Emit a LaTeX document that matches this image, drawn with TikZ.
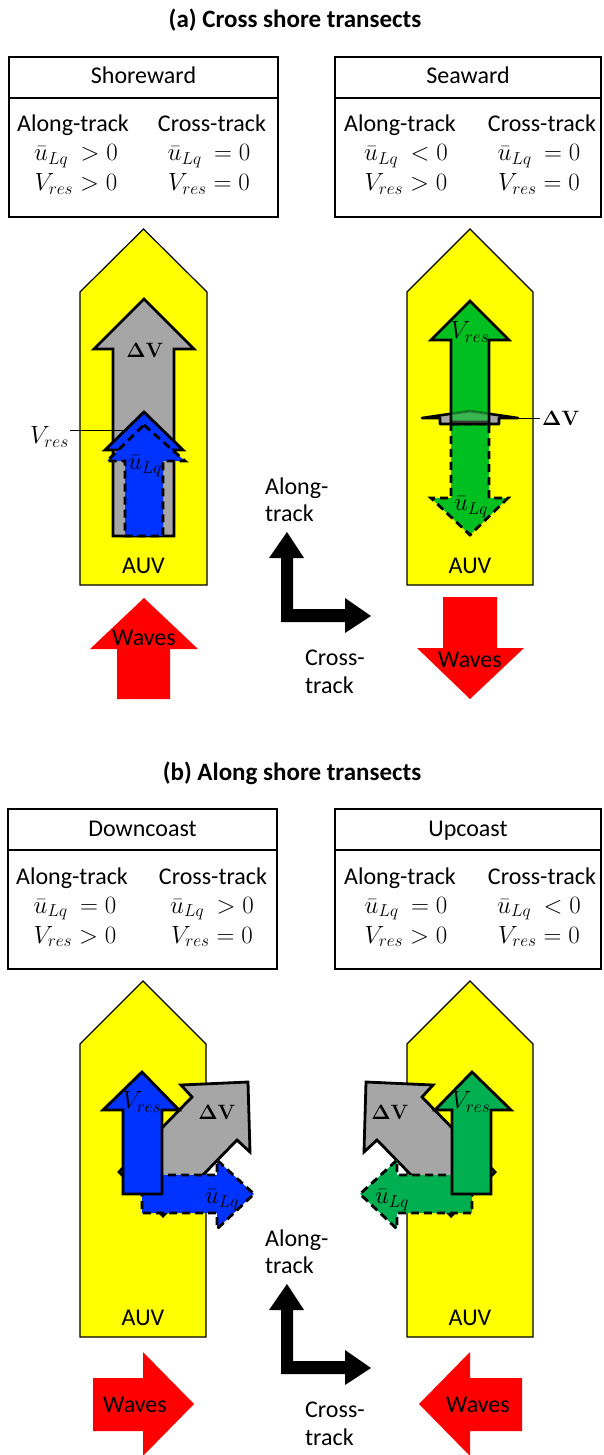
\documentclass[tikz,border=0pt]{standalone}
\usepackage[no-math]{fontspec}
\setmainfont{Carlito}
\usepackage{amsmath}
\definecolor{auvyellow}{HTML}{FFFF00}
\definecolor{arrgray}{HTML}{A6A6A6}
\definecolor{arrblue}{HTML}{0033FF}
\definecolor{greenA}{HTML}{00C021}
\definecolor{greenB}{HTML}{00B050}
\definecolor{wavered}{HTML}{FF0000}
\begin{document}
\begin{tikzpicture}[x=1pt,y=-1pt,
  txt/.style={font=\fontsize{24}{28}\selectfont, inner sep=0pt},
  ttl/.style={font=\bfseries\fontsize{25}{30}\selectfont, inner sep=0pt},
  dvlab/.style={font=\fontsize{22}{26}\selectfont, inner sep=0pt},
  auvbody/.style={fill=auvyellow, draw=black, line width=1.2pt, line join=miter},
  tbox/.style={draw=black, line width=1.2pt},
  solidarr/.style={draw=black, line width=2.8pt, line join=miter},
  dasharr/.style={draw=black, line width=2.8pt, dash pattern=on 8pt off 5pt, line join=miter},
  wave/.style={fill=wavered, draw=none},
  axisarr/.style={fill=black, draw=none},
  leader/.style={draw=black, line width=1pt},
  flatarr/.style={draw=black, line width=2.6pt, line join=round, fill=arrgray}
]
\useasboundingbox (0,0) rectangle (603,1455);

% ================= (a) =================
\node[ttl, anchor=base] (titleA) at (295,28) {(a) Cross shore transects};

% Shoreward box
\draw[tbox] (9,57) rectangle (278,217);
\draw[tbox] (9,98) -- (278,98);
\node[txt, anchor=base] (hShore) at (143.5,84) {Shoreward};
\node[txt, anchor=base] (aShA) at (73,132) {Along-track};
\node[txt, anchor=base] (aShC) at (212,132) {Cross-track};
\node[txt, anchor=base] (aShU1) at (76,161) {$\bar{u}_{Lq}\ > 0$};
\node[txt, anchor=base] (aShV1) at (76,191) {$V_{res} > 0$};
\node[txt, anchor=base] (aShU2) at (209,161) {$\bar{u}_{Lq}\ = 0$};
\node[txt, anchor=base] (aShV2) at (209,191) {$V_{res} = 0$};

% Seaward box
\draw[tbox] (335,57) rectangle (601,217);
\draw[tbox] (335,98) -- (601,98);
\node[txt, anchor=base] (hSea) at (468,84) {Seaward};
\node[txt, anchor=base] (aSeA) at (400,132) {Along-track};
\node[txt, anchor=base] (aSeC) at (542,132) {Cross-track};
\node[txt, anchor=base] (aSeU1) at (406,161) {$\bar{u}_{Lq}\ < 0$};
\node[txt, anchor=base] (aSeV1) at (406,191) {$V_{res} > 0$};
\node[txt, anchor=base] (aSeU2) at (539,161) {$\bar{u}_{Lq}\ = 0$};
\node[txt, anchor=base] (aSeV2) at (539,191) {$V_{res} = 0$};

% AUV bodies
\draw[auvbody] (80,585) -- (80,292) -- (143.5,229) -- (207,292) -- (207,585) -- cycle;
\draw[auvbody] (407,585) -- (407,292) -- (470,229) -- (533,292) -- (533,585) -- cycle;
\node[txt, anchor=base] (auvA1) at (143.5,573) {AUV};
\node[txt, anchor=base] (auvA2) at (470,573) {AUV};

% left (shoreward) arrows
\draw[solidarr, fill=arrgray] (144,299) -- (194,349) -- (174,349) -- (174,536) -- (113,536) -- (113,349) -- (94,349) -- cycle;
\draw[solidarr, fill=arrblue] (144,412) -- (183,450) -- (160,450) -- (160,530) -- (128,530) -- (128,450) -- (105,450) -- cycle;
\draw[dasharr, fill=arrblue] (144,425) -- (185,461) -- (163,461) -- (163,536) -- (125,536) -- (125,461) -- (107,461) -- cycle;
\node[dvlab] (dVa1) at (145,350) {$\mathbf{\Delta V}$};
\node[txt] (uLa1) at (145,466) {$\bar{u}_{Lq}$};
\coordinate (ldA) at (125.5,430);
\node[txt, anchor=east, inner sep=1pt] (vresA1) at (70,437) {$V_{res}$};
\draw[leader] (ldA) -- (ldA -| vresA1.east);

% right (seaward) arrows
\draw[dasharr, fill=greenA] (451,424) -- (489,424) -- (489,498) -- (508,498) -- (470,535) -- (431,498) -- (451,498) -- cycle;
\draw[flatarr] (440,424) -- (440,418) -- (422,418) -- (470,411) -- (518,418) -- (499,418) -- (499,424) -- cycle;
\draw[solidarr, fill=greenA] (470,301) -- (509,340) -- (489,340) -- (489,422) -- (451,422) -- (451,340) -- (431,340) -- cycle;
\begin{scope}
  \clip (452.4,405) rectangle (487.6,422);
  \draw[flatarr, opacity=0.35] (440,424) -- (440,418) -- (422,418) -- (470,411) -- (518,418) -- (499,418) -- (499,424) -- cycle;
\end{scope}
\node[txt] (vresA2) at (470,332) {$V_{res}$};
\node[txt] (uLa2) at (471,507) {$\bar{u}_{Lq}$};
\coordinate (ldB) at (518,418);
\node[dvlab, anchor=west, inner sep=2pt] (dVa2) at (540,418) {$\mathbf{\Delta V}$};
\draw[leader] (ldB) -- (dVa2.west);

% axis
\fill[axisarr] (287,532) -- (304,558) -- (293,558) -- (293,609) -- (345,609) -- (345,598) -- (371,616) -- (345,633) -- (345,622) -- (281,622) -- (281,558) -- (269,558) -- cycle;
\node[txt, anchor=base west] (axA1) at (265,494) {Along-};
\node[txt, anchor=base west] (axA2) at (265,521) {track};
\node[txt, anchor=base west] (axA3) at (305,665) {Cross-};
\node[txt, anchor=base west] (axA4) at (305,693) {track};

% waves
\fill[wave] (144,598) -- (198,649) -- (170,649) -- (170,699) -- (117,699) -- (117,649) -- (90,649) -- cycle;
\node[txt, anchor=base] (wvA1) at (144,645) {Waves};
\fill[wave] (443,597) -- (497,597) -- (497,648) -- (524,648) -- (470,699) -- (417,648) -- (443,648) -- cycle;
\node[txt, anchor=base] (wvA2) at (470,667) {Waves};

% ================= (b) =================
\node[ttl, anchor=base] (titleB) at (292,780) {(b) Along shore transects};

% Downcoast box
\draw[tbox] (8,809) rectangle (277,969);
\draw[tbox] (8,850) -- (277,850);
\node[txt, anchor=base] (hDown) at (142.5,836) {Downcoast};
\node[txt, anchor=base] (bDnA) at (72,884) {Along-track};
\node[txt, anchor=base] (bDnC) at (213,884) {Cross-track};
\node[txt, anchor=base] (bDnU1) at (75,913) {$\bar{u}_{Lq}\ = 0$};
\node[txt, anchor=base] (bDnV1) at (75,943) {$V_{res} > 0$};
\node[txt, anchor=base] (bDnU2) at (212,913) {$\bar{u}_{Lq}\ > 0$};
\node[txt, anchor=base] (bDnV2) at (212,943) {$V_{res} = 0$};

% Upcoast box
\draw[tbox] (335,809) rectangle (601,969);
\draw[tbox] (335,850) -- (601,850);
\node[txt, anchor=base] (hUp) at (468,836) {Upcoast};
\node[txt, anchor=base] (bUpA) at (400,884) {Along-track};
\node[txt, anchor=base] (bUpC) at (542,884) {Cross-track};
\node[txt, anchor=base] (bUpU1) at (406,913) {$\bar{u}_{Lq}\ = 0$};
\node[txt, anchor=base] (bUpV1) at (406,943) {$V_{res} > 0$};
\node[txt, anchor=base] (bUpU2) at (539,913) {$\bar{u}_{Lq}\ < 0$};
\node[txt, anchor=base] (bUpV2) at (539,943) {$V_{res} = 0$};

% AUV bodies
\draw[auvbody] (80,1337) -- (80,1044) -- (143,981) -- (206,1044) -- (206,1337) -- cycle;
\draw[auvbody] (407,1337) -- (407,1044) -- (470,981) -- (533,1044) -- (533,1337) -- cycle;
\node[txt, anchor=base] (auvB1) at (143,1325) {AUV};
\node[txt, anchor=base] (auvB2) at (470,1325) {AUV};

% downcoast arrows
\draw[solidarr, fill=arrgray] (248,1082) -- (250,1152) -- (237,1140) -- (163,1216) -- (119,1172) -- (192,1097) -- (181,1085) -- cycle;
\draw[dasharr, fill=arrblue] (142,1175) -- (217,1175) -- (217,1160) -- (254,1194) -- (217,1229) -- (217,1213) -- (142,1213) -- cycle;
\draw[solidarr, fill=arrblue] (142,1072) -- (179,1110) -- (162,1110) -- (162,1194) -- (123,1194) -- (123,1110) -- (103,1110) -- cycle;
\node[txt] (vresB1) at (142,1102) {$V_{res}$};
\node[dvlab] (dVb1) at (217,1112) {$\mathbf{\Delta V}$};
\node[txt] (uLb1) at (222,1200) {$\bar{u}_{Lq}$};

% upcoast arrows
\draw[solidarr, fill=arrgray] (366,1082) -- (364,1152) -- (377,1140) -- (451,1216) -- (495,1172) -- (422,1097) -- (433,1085) -- cycle;
\draw[dasharr, fill=greenB] (472,1175) -- (397,1175) -- (397,1160) -- (360,1194) -- (397,1229) -- (397,1213) -- (472,1213) -- cycle;
\draw[solidarr, fill=greenB] (472,1072) -- (511,1110) -- (491,1110) -- (491,1194) -- (452,1194) -- (452,1110) -- (435,1110) -- cycle;
\node[txt] (vresB2) at (471,1102) {$V_{res}$};
\node[dvlab] (dVb2) at (390,1112) {$\mathbf{\Delta V}$};
\node[txt] (uLb2) at (392,1200) {$\bar{u}_{Lq}$};

% axis
\fill[axisarr] (287,1284) -- (304,1310) -- (293,1310) -- (293,1361) -- (345,1361) -- (345,1350) -- (371,1368) -- (345,1385) -- (345,1374) -- (281,1374) -- (281,1310) -- (269,1310) -- cycle;
\node[txt, anchor=base west] (axB1) at (265,1246) {Along-};
\node[txt, anchor=base west] (axB2) at (265,1273) {track};
\node[txt, anchor=base west] (axB3) at (305,1417) {Cross-};
\node[txt, anchor=base west] (axB4) at (305,1445) {track};

% waves
\fill[wave] (93,1378) -- (143,1378) -- (143,1352) -- (194,1404) -- (143,1456) -- (143,1431) -- (93,1431) -- cycle;
\node[txt, anchor=base] (wvB1) at (135,1412) {Waves};
\fill[wave] (522,1378) -- (470,1378) -- (470,1352) -- (419,1404) -- (470,1456) -- (470,1431) -- (522,1431) -- cycle;
\node[txt, anchor=base] (wvB2) at (478,1412) {Waves};
\end{tikzpicture}
\end{document}
